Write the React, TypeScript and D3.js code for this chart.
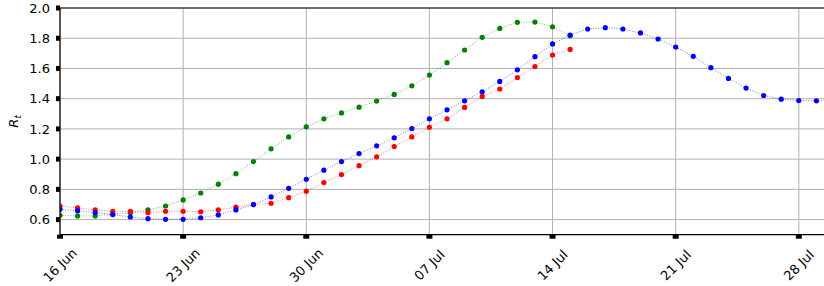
import React from "react";
import * as d3 from "d3";

const startDate = new Date(Date.UTC(2020, 5, 16));
const xEndDate = new Date(Date.UTC(2020, 6, 30));

const redValues = [0.69, 0.677, 0.664, 0.655, 0.655, 0.646, 0.655, 0.655, 0.652, 0.664, 0.682, 0.699, 0.708, 0.745, 0.788, 0.845, 0.898, 0.957, 1.015, 1.083, 1.147, 1.211, 1.267, 1.342, 1.415, 1.464, 1.54, 1.613, 1.689, 1.726];
const greenValues = [0.628, 0.624, 0.624, 0.637, 0.646, 0.664, 0.69, 0.73, 0.776, 0.834, 0.904, 0.984, 1.068, 1.147, 1.214, 1.267, 1.306, 1.344, 1.384, 1.428, 1.485, 1.556, 1.638, 1.722, 1.806, 1.865, 1.905, 1.907, 1.876, 1.817];
const blueValues = [0.668, 0.659, 0.646, 0.633, 0.617, 0.606, 0.602, 0.602, 0.612, 0.631, 0.664, 0.699, 0.75, 0.807, 0.867, 0.927, 0.984, 1.037, 1.088, 1.141, 1.202, 1.267, 1.326, 1.386, 1.446, 1.514, 1.591, 1.678, 1.762, 1.821, 1.861, 1.87, 1.861, 1.835, 1.795, 1.742, 1.68, 1.605, 1.534, 1.47, 1.421, 1.397, 1.388, 1.386, 1.385];

const yTicks = [0.6, 0.8, 1.0, 1.2, 1.4, 1.6, 1.8, 2.0];
const xTickLabels = ["16 Jun", "23 Jun", "30 Jun", "07 Jul", "14 Jul", "21 Jul", "28 Jul"];

const series = [
  { name: "green", color: "#008000", values: greenValues },
  { name: "red", color: "#ff0000", values: redValues },
  { name: "blue", color: "#0000ff", values: blueValues },
];

const W = 824;
const H = 286;
const left = 60;
const top = 8;
const bottom = 234.7;
const right = 834;

const dayMs = 86400000;
const dateAt = (i: number) => new Date(startDate.getTime() + i * dayMs);

export default function App() {
  const x = d3.scaleUtc().domain([startDate, xEndDate]).range([left, right]);
  const y = d3.scaleLinear().domain([0.5, 2.0]).range([bottom, top]);
  const xTicks = xTickLabels.map((_, i) => dateAt(i * 7));
  const line = d3
    .line<number>()
    .x((_, i) => x(dateAt(i)))
    .y((d) => y(d));
  const font = "DejaVu Sans, sans-serif";

  return (
    <svg
      width={W}
      height={H}
      style={{ position: "absolute", left: 0, top: 0, background: "#fff" }}
      fontFamily={font}
    >
      <defs>
        <clipPath id="plotclip">
          <rect x={left} y={top} width={right - left} height={bottom - top} />
        </clipPath>
      </defs>
      <rect x={0} y={0} width={W} height={H} fill="#fff" />
      {/* grid */}
      <g stroke="#b0b0b0" strokeWidth={1}>
        {yTicks.map((t) => (
          <line key={"gy" + t} x1={left} x2={right} y1={y(t)} y2={y(t)} />
        ))}
        {xTicks.map((t, i) => (
          <line key={"gx" + i} x1={x(t)} x2={x(t)} y1={top} y2={bottom} />
        ))}
      </g>
      {/* series */}
      <g clipPath="url(#plotclip)">
        {series.map((s) => (
          <g key={s.name}>
            <path
              d={line(s.values) || ""}
              fill="none"
              stroke={s.color}
              strokeWidth={0.9}
              strokeDasharray="1 1.6"
              opacity={0.6}
            />
            {s.values.map((v, i) => (
              <circle key={i} cx={x(dateAt(i))} cy={y(v)} r={2.6} fill={s.color} />
            ))}
          </g>
        ))}
      </g>
      {/* frame */}
      <g stroke="#000" strokeWidth={1.2} fill="none">
        <line x1={left} x2={right} y1={top} y2={top} />
        <line x1={left} x2={right} y1={bottom} y2={bottom} />
        <line x1={left} x2={left} y1={top} y2={bottom} />
      </g>
      {/* y ticks */}
      {yTicks.map((t) => (
        <g key={"yt" + t}>
          <line x1={left - 4} x2={left} y1={y(t)} y2={y(t)} stroke="#000" strokeWidth={5} />
          <text x={left - 10} y={y(t)} dy="0.36em" textAnchor="end" fontSize={13} fill="#000">
            {t.toFixed(1)}
          </text>
        </g>
      ))}
      {/* x ticks */}
      {xTicks.map((t, i) => (
        <g key={"xt" + i}>
          <line x1={x(t)} x2={x(t)} y1={bottom} y2={bottom + 4} stroke="#000" strokeWidth={6} />
          <text
            transform={`translate(${x(t)},${bottom + 30.5}) rotate(-45)`}
            textAnchor="middle"
            dy="0.35em"
            fontSize={13}
            fill="#000"
          >
            {xTickLabels[i]}
          </text>
        </g>
      ))}
      {/* y label */}
      <text
        transform={`translate(18,${(top + bottom) / 2}) rotate(-90)`}
        textAnchor="middle"
        fontSize={13}
        fill="#000"
        fontStyle="italic"
      >
        R<tspan fontSize={9} dy={3}>t</tspan>
      </text>
    </svg>
  );
}
